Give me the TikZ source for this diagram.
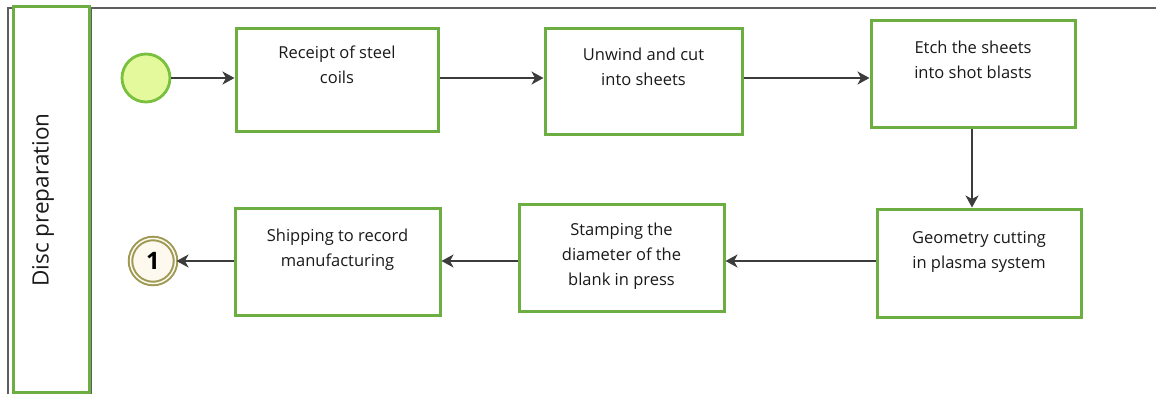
\documentclass[tikz,border=0pt]{standalone}
\usepackage{fontspec}
\setmainfont{Open Sans}
\usetikzlibrary{arrows.meta}
\definecolor{boxgreen}{HTML}{6DAE43}
\definecolor{startgreen}{HTML}{78C03E}
\definecolor{startfill}{HTML}{E3F99C}
\definecolor{olive}{HTML}{9E9A55}
\definecolor{endfill}{HTML}{FDF9EE}
\definecolor{linegray}{HTML}{3C3C3C}
\definecolor{poolgray}{HTML}{5E5E5E}
\definecolor{txtcol}{HTML}{1A1A1A}
\tikzset{
  task/.style={draw=boxgreen, line width=3pt, fill=white, rectangle, inner sep=0pt},
  tasktext/.style={anchor=north, inner sep=0pt, align=center, text=txtcol, font=\fontsize{16.5}{25}\selectfont},
  flow/.style={draw=linegray, line width=2pt, -{Stealth[length=12pt,width=13pt,inset=3.5pt]}},
  poolline/.style={draw=poolgray, line width=2.4pt},
}
\begin{document}
\begin{tikzpicture}[x=1pt,y=-1pt]
\useasboundingbox (0,0) rectangle (1156,394);
% pool frame
\draw[poolline] (8,394) -- (8,8) -- (1156,8);
\draw[poolline] (91,8) -- (91,394);
\node[draw=boxgreen, line width=3pt, fill=white, minimum width=76pt, minimum height=386pt, inner sep=0pt] (lane) at (51,199) {};
\node[rotate=90, text=txtcol, font=\fontsize{22.5}{26}\selectfont, inner sep=0pt] (lanelbl) at (43,200) {Disc preparation};
% events
\node[circle, draw=startgreen, line width=2.8pt, fill=startfill, minimum size=48pt, inner sep=0pt] (start) at (146,78) {};
\node[circle, draw=olive, line width=2pt, double=endfill, double distance=1.5pt, fill=endfill, minimum size=45pt, inner sep=0pt, font=\fontsize{24}{28}\selectfont\bfseries] (endc) at (153,261) {1};
% tasks
\node[task, minimum width=202pt, minimum height=103pt] (b1) at (337,79.5) {};
\node[task, minimum width=197pt, minimum height=106pt] (b2) at (643.5,81) {};
\node[task, minimum width=204pt, minimum height=107pt] (b3) at (973,73.5) {};
\node[task, minimum width=204pt, minimum height=108pt] (b4) at (979,263) {};
\node[task, minimum width=205pt, minimum height=107pt] (b5) at (621.5,257.5) {};
\node[task, minimum width=205pt, minimum height=107pt] (b6) at (337.5,261.5) {};
% texts
\node[tasktext] (t1) at (337,46) {Receipt of steel\\coils};
\node[tasktext] (t2) at (643.5,48) {Unwind and cut\\into sheets};
\node[tasktext] (t3) at (973,41) {Etch the sheets\\into shot blasts};
\node[tasktext] (t4) at (979,231) {Geometry cutting\\in plasma system};
\node[tasktext] (t5) at (621.5,223) {Stamping the\\diameter of the\\blank in press};
\node[tasktext] (t6) at (337.5,229) {Shipping to record\\manufacturing};
% flows
\draw[flow] (start.east) -- (b1.west |- start);
\draw[flow] (b1.east |- start) -- (b2.west |- start);
\draw[flow] (b2.east |- start) -- (b3.west |- start);
\draw[flow] (b3.south -| 972,0) -- (972,0 |- b4.north);
\draw[flow] (b4.west |- endc) -- (b5.east |- endc);
\draw[flow] (b5.west |- endc) -- (b6.east |- endc);
\draw[flow] (b6.west |- endc) -- (endc.east);
\end{tikzpicture}
\end{document}
